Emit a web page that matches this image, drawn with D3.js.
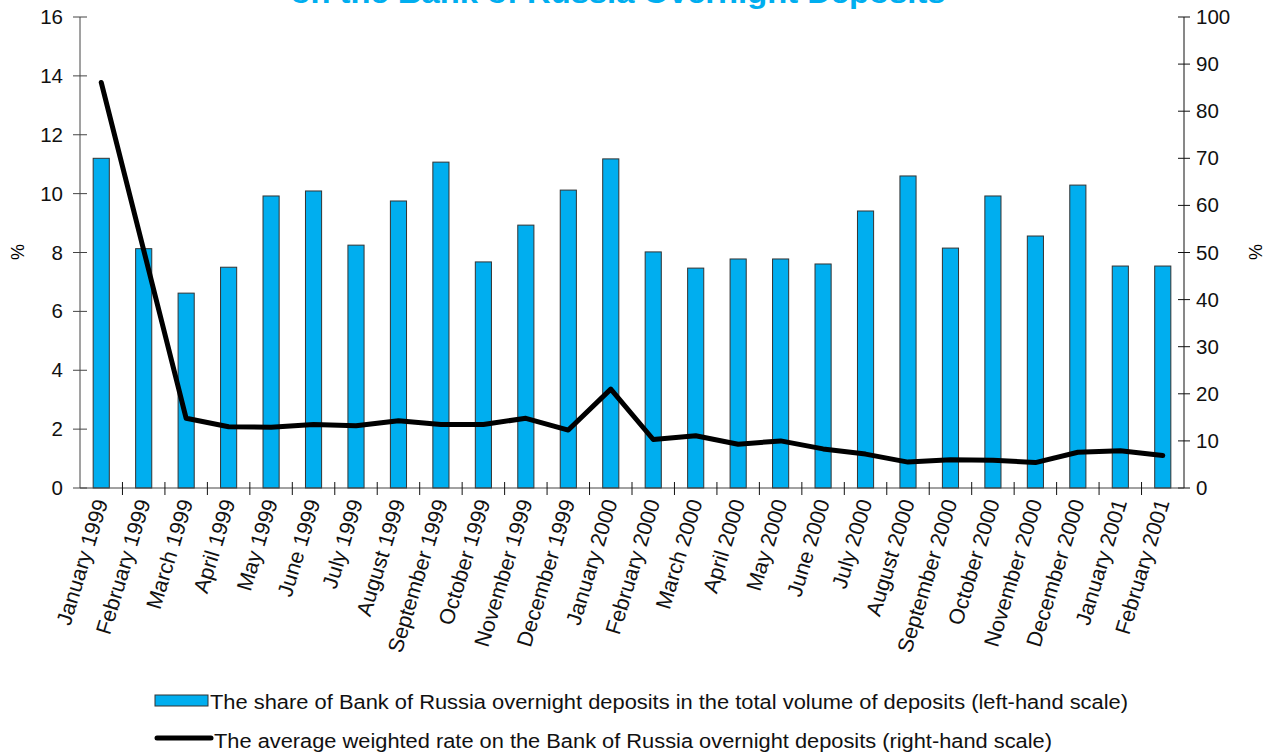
<!DOCTYPE html>
<html><head><meta charset="utf-8">
<script src="https://cdn.jsdelivr.net/npm/d3@7/dist/d3.min.js"></script>
<style>
body{margin:0;background:#fff;}
text{font-family:"Liberation Sans",Arial,sans-serif;}
</style></head>
<body><svg id="c" width="1278" height="756"></svg>
<script>
const months = ["January 1999","February 1999","March 1999","April 1999","May 1999","June 1999","July 1999","August 1999","September 1999","October 1999","November 1999","December 1999","January 2000","February 2000","March 2000","April 2000","May 2000","June 2000","July 2000","August 2000","September 2000","October 2000","November 2000","December 2000","January 2001","February 2001"];
const shareValues = [11.2,8.13,6.62,7.5,9.92,10.09,8.25,9.75,11.07,7.68,8.93,10.12,11.18,8.02,7.47,7.78,7.78,7.61,9.41,10.6,8.15,9.92,8.56,10.29,7.54,7.54];
const rateValues = [86.1,50.5,14.8,13.0,12.9,13.5,13.2,14.3,13.5,13.5,14.8,12.3,21.0,10.3,11.1,9.3,10.0,8.3,7.2,5.5,6.0,5.9,5.4,7.6,7.9,6.9];
const leftTicks = [0,2,4,6,8,10,12,14,16];
const rightTicks = [0,10,20,30,40,50,60,70,80,90,100];
const titleText = "on the Bank of Russia Overnight Deposits";
const legendLabels = ["The share of Bank of Russia overnight deposits in the total volume of deposits (left-hand scale)","The average weighted rate on the Bank of Russia overnight deposits (right-hand scale)"];

const svg = d3.select("#c");
const L = 80, R = 1184, T = 17, B = 488;
const blue = "#00AEEF", axisCol = "#444";

const x = d3.scaleBand().domain(months).range([L, R]).paddingInner(0.62).paddingOuter(0.31);
const xb = d3.scaleBand().domain(months).range([L, R]);
const yL = d3.scaleLinear().domain([0,16]).range([B, T]);
const yR = d3.scaleLinear().domain([0,100]).range([B, T]);

// title (partially cut at top, as in the reference)
svg.append("text").attr("x", 618).attr("y", 3).attr("text-anchor","middle")
  .attr("font-size", 30).attr("font-weight","bold").attr("fill", blue)
  .attr("textLength", 655).attr("lengthAdjust","spacingAndGlyphs").text(titleText);

// bars
svg.append("g").selectAll("rect").data(shareValues).join("rect")
  .attr("x", (d,i)=>x(months[i])).attr("width", x.bandwidth())
  .attr("y", d=>yL(d)).attr("height", d=>B - yL(d))
  .attr("fill", blue).attr("stroke", "#333").attr("stroke-width", 1);

// left axis
const gl = svg.append("g");
gl.append("line").attr("x1",L).attr("x2",L).attr("y1",T).attr("y2",B).attr("stroke",axisCol);
gl.selectAll("line.t").data(leftTicks).join("line").attr("class","t")
  .attr("x1",L-7).attr("x2",L+7).attr("y1",d=>yL(d)).attr("y2",d=>yL(d)).attr("stroke",axisCol);
gl.selectAll("text").data(leftTicks).join("text")
  .attr("x", 63).attr("y", d=>yL(d)+7).attr("text-anchor","end").attr("font-size",20.5).attr("fill","#111").text(d=>d);

// right axis
const gr = svg.append("g");
gr.append("line").attr("x1",R).attr("x2",R).attr("y1",T).attr("y2",B).attr("stroke","#111");
gr.selectAll("line.t").data(rightTicks).join("line").attr("class","t")
  .attr("x1",R-6).attr("x2",R+6).attr("y1",d=>yR(d)).attr("y2",d=>yR(d)).attr("stroke","#111");
gr.selectAll("text").data(rightTicks).join("text")
  .attr("x", 1196).attr("y", d=>yR(d)+7).attr("text-anchor","start").attr("font-size",20.5).attr("fill","#111").text(d=>d);

// % labels
svg.append("text").attr("transform","translate(24,252) rotate(-90)").attr("text-anchor","middle").attr("font-size",18).text("%");
svg.append("text").attr("transform","translate(1262,252) rotate(-90)").attr("text-anchor","middle").attr("font-size",18).text("%");

// x axis
const gx = svg.append("g");
gx.append("line").attr("x1",L).attr("x2",R).attr("y1",B).attr("y2",B).attr("stroke",axisCol);
const bounds = months.map(m=>xb(m)).slice(1);
gx.selectAll("line.t").data(bounds).join("line").attr("class","t")
  .attr("x1",d=>d).attr("x2",d=>d).attr("y1",B-6).attr("y2",B+7).attr("stroke","#111");
gx.selectAll("text").data(months).join("text")
  .attr("transform", d=>`translate(${xb(d)+xb.bandwidth()/2+7},${B+14}) rotate(-73)`)
  .attr("text-anchor","end").attr("font-size",21.5).attr("fill","#111").text(d=>d);

// line
const line = d3.line().x((d,i)=>xb(months[i])+xb.bandwidth()/2).y(d=>yR(d));
svg.append("path").datum(rateValues).attr("d", line).attr("fill","none")
  .attr("stroke","#000").attr("stroke-width",5).attr("stroke-linejoin","round").attr("stroke-linecap","round");

// legend
const lg = svg.append("g");
lg.append("rect").attr("x",155).attr("y",695).attr("width",53).attr("height",11).attr("fill",blue).attr("stroke","#333").attr("stroke-width",1);
lg.append("text").attr("x",210).attr("y",709).attr("font-size",20).attr("fill","#111")
  .attr("textLength",918).attr("lengthAdjust","spacingAndGlyphs").text(legendLabels[0]);
lg.append("line").attr("x1",157).attr("x2",211).attr("y1",738).attr("y2",738).attr("stroke","#000").attr("stroke-width",5).attr("stroke-linecap","round");
lg.append("text").attr("x",214).attr("y",748).attr("font-size",20).attr("fill","#111")
  .attr("textLength",838).attr("lengthAdjust","spacingAndGlyphs").text(legendLabels[1]);
</script></body></html>
